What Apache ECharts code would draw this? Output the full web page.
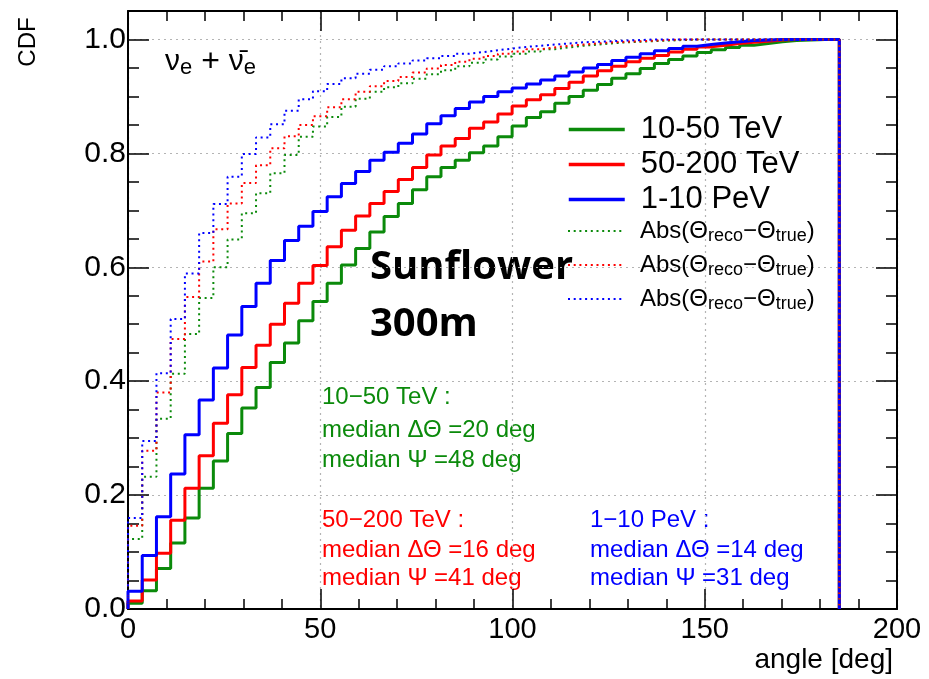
<!DOCTYPE html>
<html><head><meta charset="utf-8">
<script src="https://cdn.jsdelivr.net/npm/echarts@6/dist/echarts.min.js"></script>
<style>html,body{margin:0;padding:0;background:#fff}#c{width:929px;height:679px}</style>
</head><body><div id="c"></div>
<script>
// Histogram binning: 50 bins of 3.7 deg covering 0-185 deg
const binWidth = 3.7;

// CDF per bin (solid: space angle Psi)
const cdf_10_50TeV = [0.010,0.032,0.071,0.116,0.160,0.212,0.260,0.308,0.353,0.389,
  0.433,0.467,0.506,0.540,0.572,0.604,0.633,0.662,0.689,0.712,
  0.736,0.759,0.775,0.788,0.801,0.813,0.829,0.848,0.863,0.873,
  0.888,0.900,0.911,0.921,0.932,0.940,0.949,0.958,0.965,0.971,
  0.977,0.982,0.986,0.990,0.993,0.996,0.998,0.999,1.000,1.000];
const cdf_50_200TeV = [0.014,0.051,0.098,0.156,0.212,0.269,0.326,0.376,0.424,0.463,
  0.500,0.537,0.572,0.603,0.636,0.665,0.690,0.712,0.733,0.754,
  0.775,0.797,0.813,0.826,0.844,0.855,0.869,0.883,0.894,0.903,
  0.914,0.925,0.936,0.945,0.953,0.961,0.967,0.972,0.978,0.983,
  0.987,0.990,0.993,0.995,0.997,0.999,1.000,1.000,1.000,1.000];
const cdf_1_10PeV = [0.031,0.094,0.162,0.237,0.306,0.367,0.423,0.481,0.531,0.572,
  0.612,0.647,0.672,0.698,0.724,0.747,0.768,0.788,0.802,0.818,
  0.834,0.852,0.866,0.879,0.890,0.900,0.908,0.915,0.922,0.929,
  0.936,0.943,0.950,0.956,0.963,0.969,0.975,0.980,0.984,0.988,
  0.991,0.994,0.996,0.998,0.999,1.000,1.000,1.000,1.000,1.000];

// CDF per bin (dotted: |Theta_reco - Theta_true|)
const dth_10_50TeV = [0.123,0.232,0.334,0.413,0.483,0.546,0.600,0.649,0.695,0.730,
  0.765,0.797,0.829,0.847,0.864,0.882,0.896,0.908,0.916,0.923,
  0.931,0.939,0.946,0.953,0.959,0.965,0.970,0.975,0.979,0.983,
  0.986,0.989,0.991,0.993,0.995,0.996,0.997,0.998,0.999,1.000,
  1.000,1.000,1.000,1.000,1.000,1.000,1.000,1.000,1.000,1.000];
const dth_50_200TeV = [0.146,0.278,0.380,0.474,0.548,0.610,0.667,0.712,0.748,0.779,
  0.809,0.830,0.850,0.865,0.881,0.895,0.908,0.918,0.927,0.934,
  0.942,0.949,0.955,0.961,0.966,0.971,0.975,0.979,0.983,0.986,
  0.989,0.991,0.993,0.995,0.996,0.997,0.998,0.999,1.000,1.000,
  1.000,1.000,1.000,1.000,1.000,1.000,1.000,1.000,1.000,1.000];
const dth_1_10PeV = [0.160,0.295,0.414,0.509,0.589,0.660,0.711,0.759,0.799,0.828,
  0.851,0.875,0.895,0.909,0.922,0.932,0.940,0.947,0.953,0.958,
  0.963,0.967,0.971,0.975,0.978,0.981,0.984,0.987,0.989,0.991,
  0.993,0.995,0.996,0.997,0.998,0.999,1.000,1.000,1.000,1.000,
  1.000,1.000,1.000,1.000,1.000,1.000,1.000,1.000,1.000,1.000];

const solidNames = ['10-50 TeV','50-200 TeV','1-10 PeV'];
const dottedNames = ['Abs10-50','Abs50-200','Abs1-10'];
const xTicks = [0, 50, 100, 150, 200];
const yTicks = [0.0, 0.2, 0.4, 0.6, 0.8, 1.0];

const GREEN = '#0b8a0b', RED = '#ff0000', BLUE = '#0000ff';
const FONT = '"Liberation Sans", Arial, sans-serif';

function histPoints(vals){
  const pts = [[0, 0]];
  vals.forEach((v, i) => pts.push([i * binWidth, v]));
  const end = vals.length * binWidth;
  pts.push([end, vals[vals.length - 1]]);
  pts.push([end, 0]);
  return pts;
}
function solid(name, vals, color){
  return {name, type:'line', data: histPoints(vals), step:'end', symbol:'none', showSymbol:false,
    lineStyle:{color, width:3}, itemStyle:{color}, animation:false, clip:true};
}
function dotted(name, vals, color){
  return {name, type:'line', data: histPoints(vals), step:'end', symbol:'none', showSymbol:false,
    lineStyle:{color, width:2, type:[2,3.7]}, itemStyle:{color}, animation:false, clip:true};
}

const chart = echarts.init(document.getElementById('c'), null, {renderer:'canvas'});

const axisCommonX = {
  type:'value', min:xTicks[0], max:xTicks[xTicks.length-1], interval:50,
  axisLine:{show:true, onZero:false, lineStyle:{color:'#000', width:2}},
  axisTick:{show:true, inside:true, length:20, lineStyle:{color:'#000', width:1.5}},
  minorTick:{show:true, splitNumber:5, length:10, lineStyle:{color:'#000', width:1.5}},
};
const axisCommonY = {
  type:'value', min:0, max:1.05, interval:0.2,
  axisLine:{show:true, onZero:false, lineStyle:{color:'#000', width:2}},
  axisTick:{show:true, inside:true, length:21, lineStyle:{color:'#000', width:1.5}},
  minorTick:{show:true, splitNumber:4, length:11, lineStyle:{color:'#000', width:1.5}},
};

const absRich = '{a|Abs(Θ}{s|reco}{a|−Θ}{s|true}{a|)}';
const legendRich = {
  b:{fontSize:31, fontFamily:FONT, color:'#000', lineHeight:30},
  a:{fontSize:24, fontFamily:FONT, color:'#000', lineHeight:29},
  s:{fontSize:18, fontFamily:FONT, color:'#000', lineHeight:12, verticalAlign:'bottom'}
};
const legendBase = {
  orient:'vertical', left:562, itemWidth:56, itemHeight:14, selectedMode:false,
  itemStyle:{opacity:0},
  textStyle:{color:'#000', fontFamily:FONT, fontSize:30, padding:[0,0,0,11], rich:legendRich},
  formatter: name => name.startsWith('Abs') ? absRich : '{b|' + name + '}'
};

chart.setOption({
  animation:false,
  backgroundColor:'#fff',
  grid:{left:128, right:32, top:11, bottom:70, containLabel:false},
  xAxis:[
    Object.assign({}, axisCommonX, {position:'bottom',
      axisLabel:{show:true, color:'#000', fontSize:29, fontFamily:FONT, margin:6},
      splitLine:{show:true, lineStyle:{color:'#b4b4b4', width:1.2, type:[2,4]}}}),
    Object.assign({}, axisCommonX, {position:'top', axisLabel:{show:false}, splitLine:{show:false}})
  ],
  yAxis:[
    Object.assign({}, axisCommonY, {position:'left',
      axisLabel:{show:true, color:'#000', fontSize:30, fontFamily:FONT, margin:2, showMaxLabel:false,
        formatter: v => (yTicks.some(t => Math.abs(t - v) < 1e-6) ? v.toFixed(1) : '')},
      splitLine:{show:true, lineStyle:{color:'#b4b4b4', width:1.2, type:[2,4]}}}),
    Object.assign({}, axisCommonY, {position:'right', axisLabel:{show:false}, splitLine:{show:false}})
  ],
  legend:[
    Object.assign({}, legendBase, {top:109, itemGap:4, data:solidNames, lineStyle:{width:3.5}}),
    Object.assign({}, legendBase, {top:214, itemGap:7.5, data:dottedNames, lineStyle:{width:2}})
  ],
  series:[
    solid(solidNames[0], cdf_10_50TeV, GREEN),
    solid(solidNames[1], cdf_50_200TeV, RED),
    solid(solidNames[2], cdf_1_10PeV, BLUE),
    dotted(dottedNames[0], dth_10_50TeV, GREEN),
    dotted(dottedNames[1], dth_50_200TeV, RED),
    dotted(dottedNames[2], dth_1_10PeV, BLUE)
  ],
  graphic:[
    {type:'text', x:28, y:42, rotation:Math.PI/2,
      style:{text:'CDF', font:'24px '+FONT, fill:'#000', align:'center', verticalAlign:'middle'}},
    {type:'text', x:893, y:660,
      style:{text:'angle [deg]', font:'28px '+FONT, fill:'#000', align:'right', verticalAlign:'middle'}},
    {type:'text', x:165, y:62,
      style:{text:'{n|ν}{s|e}{p| + }{n|ν̄}{s|e}', verticalAlign:'middle', fill:'#000',
        rich:{n:{fontSize:30, fontFamily:FONT, fill:'#000', lineHeight:30},
              p:{fontSize:32, fontFamily:FONT, fill:'#000', lineHeight:30},
              s:{fontSize:22, fontFamily:FONT, fill:'#000', lineHeight:30, padding:[12,0,0,0]}}}},
    {type:'text', x:370, y:268,
      style:{text:'Sunflower', font:'bold 40px "Open Sans", sans-serif', fill:'#000', verticalAlign:'middle'}},
    {type:'text', x:370, y:325,
      style:{text:'300m', font:'bold 40px "Open Sans", sans-serif', fill:'#000', verticalAlign:'middle'}},

    {type:'text', x:322, y:397, style:{text:'10−50 TeV :', font:'24px '+FONT, fill:GREEN, verticalAlign:'middle'}},
    {type:'text', x:322, y:430, style:{text:'median ΔΘ =20 deg', font:'24px '+FONT, fill:GREEN, verticalAlign:'middle'}},
    {type:'text', x:322, y:460, style:{text:'median Ψ =48 deg', font:'24px '+FONT, fill:GREEN, verticalAlign:'middle'}},

    {type:'text', x:322, y:520, style:{text:'50−200 TeV :', font:'24px '+FONT, fill:RED, verticalAlign:'middle'}},
    {type:'text', x:322, y:550, style:{text:'median ΔΘ =16 deg', font:'24px '+FONT, fill:RED, verticalAlign:'middle'}},
    {type:'text', x:322, y:578, style:{text:'median Ψ =41 deg', font:'24px '+FONT, fill:RED, verticalAlign:'middle'}},

    {type:'text', x:590, y:520, style:{text:'1−10 PeV :', font:'24px '+FONT, fill:BLUE, verticalAlign:'middle'}},
    {type:'text', x:590, y:550, style:{text:'median ΔΘ =14 deg', font:'24px '+FONT, fill:BLUE, verticalAlign:'middle'}},
    {type:'text', x:590, y:578, style:{text:'median Ψ =31 deg', font:'24px '+FONT, fill:BLUE, verticalAlign:'middle'}}
  ]
});
</script>
</body></html>
